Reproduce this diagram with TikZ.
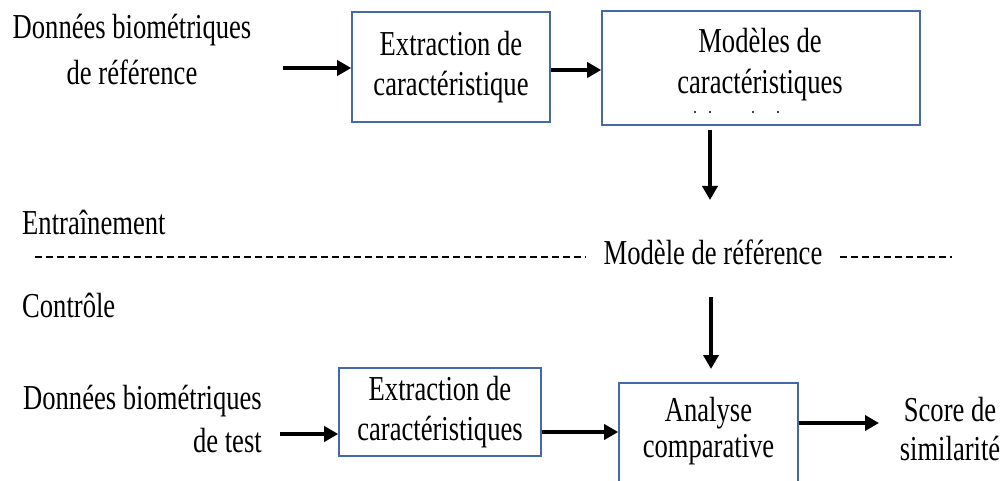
\documentclass[tikz,border=0pt]{standalone}
\usepackage{fontspec}
\setmainfont[FakeStretch=0.76]{Liberation Serif}
\usetikzlibrary{arrows.meta,calc}
\definecolor{boxblue}{RGB}{68,104,170}
\tikzset{
  lbl/.style={font=\fontsize{35}{41}\selectfont, inner sep=0pt, align=center},
  box/.style={draw=boxblue, line width=1.6pt, inner sep=0pt, align=center, font=\fontsize{35}{40}\selectfont},
  arr/.style={line width=4pt, -{Triangle[length=14pt,width=15pt]}},
  sep/.style={line width=1.5pt, dash pattern=on 7pt off 4pt}
}
\begin{document}
\begin{tikzpicture}[x=1pt,y=-1pt]
\useasboundingbox (0,0) rectangle (1006,481);
\clip (0,0) rectangle (1006,481);
% top row
\node[lbl, font=\fontsize{35}{46}\selectfont] (dref) at (132,50) {Données biométriques\\de référence};
\node[box, minimum width=198pt, minimum height=110pt] (ext1) at (451,67) {Extraction de\\caractéristique};
\node[box, minimum width=318pt, minimum height=114pt] (mod) at (761,68) {};
\node[lbl] (modt) at (760,65) {Modèles de\\caractéristiques};
\foreach \x in {695,710,753,778}{\fill (\x,112) circle (1.2pt);}
\coordinate (a1s) at (283,68);
\draw[arr] (a1s) -- (ext1.west |- a1s);
\draw[arr] (ext1.east |- 0,70) -- (mod.west |- 0,70);
\coordinate (d1s) at (710,130);
\coordinate (d1e) at (710,200);
\draw[arr] (d1s) -- (d1e);
% separator
\node[lbl, anchor=west] (train) at (22,222) {Entraînement};
\node[lbl] (ref) at (713,252) {Modèle de référence};
\coordinate (l1) at (35,257);
\coordinate (l2) at (840,257);
\coordinate (l3) at (952,257);
\draw[sep] (l1) -- ($(ref.west |- l1)+(-18,0)$);
\draw[sep] (l2) -- (l3);
\node[lbl, anchor=west] (ctrl) at (22,305) {Contrôle};
\coordinate (d2s) at (711,297);
\coordinate (d2e) at (711,369);
\draw[arr] (d2s) -- (d2e);
% bottom row
\node[lbl, anchor=east, align=right, font=\fontsize{35}{43}\selectfont] (dtest) at (262,419) {Données biométriques\\de test};
\node[box, minimum width=202pt, minimum height=88pt] (ext2) at (440,412) {Extraction de\\caractéristiques};
\node[box, minimum width=179pt, minimum height=120pt] (ana) at (708.5,443) {};
\node[lbl, font=\fontsize{35}{36}\selectfont] (anat) at (708.5,431) {Analyse\\comparative};
\node[lbl, font=\fontsize{35}{39}\selectfont] (score) at (950,429) {Score de\\similarité};
\coordinate (a3s) at (280,434);
\coordinate (sc) at (879,423);
\draw[arr] (a3s) -- (ext2.west |- a3s);
\draw[arr] (ext2.east |- 0,432) -- (ana.west |- 0,432);
\draw[arr] (ana.east |- sc) -- (sc);
\end{tikzpicture}
\end{document}
